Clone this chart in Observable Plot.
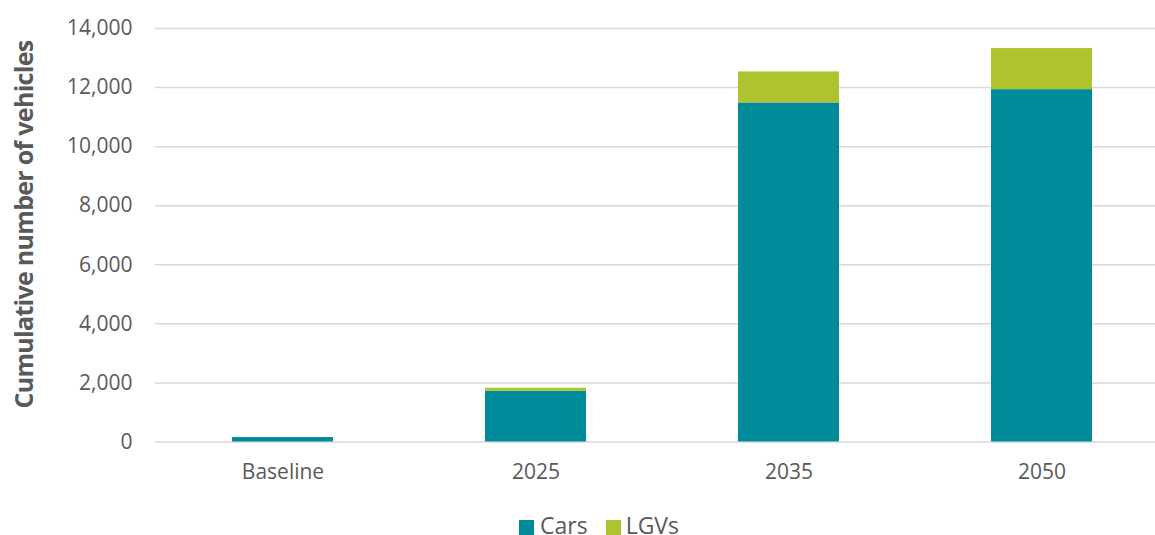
<!DOCTYPE html>
<html><head><meta charset="utf-8">
<script src="https://cdn.jsdelivr.net/npm/d3@7"></script>
<script src="https://cdn.jsdelivr.net/npm/@observablehq/plot@0.6"></script>
<style>
html,body{margin:0;padding:0;overflow:hidden;background:#fff;width:1155px;height:535px}
#chart{position:relative;width:1155px;height:535px}
#chart svg{display:block}
.legend{position:absolute;left:519px;top:509.6px;font-family:"Open Sans";font-size:23px;line-height:30px;color:#595959;white-space:nowrap}
.sw{display:inline-block;width:15px;height:15px;vertical-align:-1.5px}
g[font-weight="bold"] text{letter-spacing:-0.7px}
</style></head><body><div id="chart"></div>
<script>
const categories = ["Baseline", "2025", "2035", "2050"];
const series = ["Cars", "LGVs"];
const cars = [150, 1720, 11480, 11930];
const lgvs = [0, 100, 1050, 1390];
const yTicks = [0, 2000, 4000, 6000, 8000, 10000, 12000, 14000];
const yTitle = "Cumulative number of vehicles";
const colors = ["#008B9B", "#AEC32D"];

const data = categories.flatMap((c, i) => [
  {category: c, series: series[0], value: cars[i]},
  {category: c, series: series[1], value: lgvs[i]}
]);

const chart = Plot.plot({
  width: 1155,
  height: 495,
  marginTop: 28,
  marginBottom: 53.5,
  marginLeft: 155,
  marginRight: 0,
  style: {fontFamily: "Open Sans", fontSize: "21px", color: "#595959", background: "#fff"},
  x: {domain: categories, range: [155.25, 1169.25], paddingInner: 0.6, paddingOuter: 0.3, label: null},
  y: {domain: [0, 14000], label: null},
  color: {domain: series, range: colors},
  marks: [
    Plot.ruleY(yTicks, {stroke: "#D9D9D9", strokeWidth: 1.5}),
    Plot.barY(data, {x: "category", y: "value", fill: "series"}),
    Plot.axisX({tickSize: 0, tickPadding: 22, fontSize: 21, label: null}),
    Plot.axisY({ticks: yTicks, tickSize: 0, tickPadding: 23, tickFormat: d3.format(","), fontSize: 21, label: null}),
    Plot.text([yTitle], {frameAnchor: "left", textAnchor: "middle", rotate: -90, dx: -130.3, dy: -10.75, fontWeight: "bold", fontSize: 25, fill: "#595959", lineAnchor: "middle"})
  ]
});
const root = document.getElementById("chart");
root.appendChild(chart);

const legend = document.createElement("div");
legend.className = "legend";
series.forEach((s, i) => {
  const sw = document.createElement("span");
  sw.className = "sw";
  sw.style.background = colors[i];
  sw.style.marginRight = i === 0 ? "6px" : "5px";
  const t = document.createElement("span");
  t.textContent = s;
  if (i === 0) t.style.marginRight = "18px";
  legend.appendChild(sw);
  legend.appendChild(t);
});
root.appendChild(legend);
</script></body></html>
